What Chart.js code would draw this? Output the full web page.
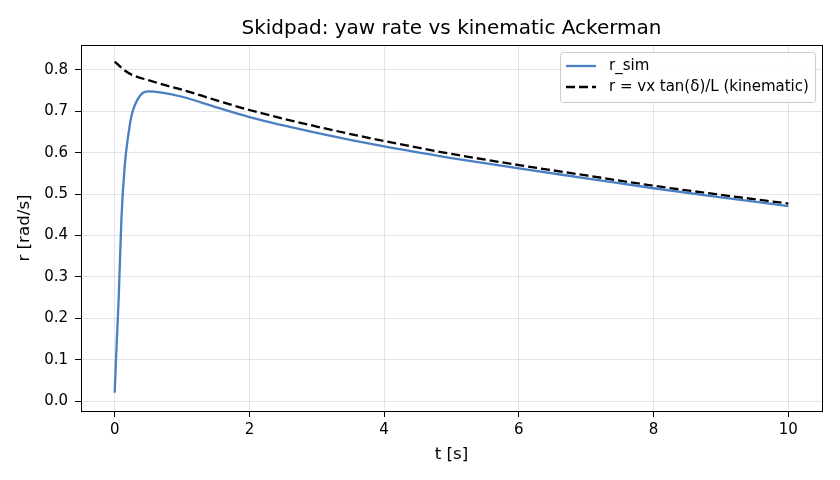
<!DOCTYPE html>
<html>
<head>
<meta charset="utf-8">
<script src="https://cdn.jsdelivr.net/npm/chart.js@4.4.0/dist/chart.umd.min.js"></script>
<style>
  html, body { margin: 0; padding: 0; background: #fff; }
  #wrap { width: 840px; height: 480px; }
</style>
</head>
<body>
<div id="wrap"><canvas id="yawChart" width="840" height="480"></canvas></div>
<script>
// datos
const tSim = [0, 0.03, 0.06, 0.1, 0.15, 0.2, 0.25, 0.3, 0.4, 0.5, 0.7, 1, 1.5, 2, 3, 4, 5, 6, 7, 8, 9, 10];
const rSim = [0.02, 0.14, 0.25, 0.44, 0.57, 0.64, 0.69, 0.715, 0.742, 0.748, 0.745, 0.735, 0.71, 0.686, 0.648, 0.615, 0.587, 0.562, 0.538, 0.514, 0.492, 0.471];

const tKin = [0, 0.1, 0.2, 0.3, 0.5, 0.75, 1, 1.5, 2, 3, 4, 5, 6, 7, 8, 9, 10];
const rKin = [0.82, 0.805, 0.793, 0.785, 0.775, 0.763, 0.752, 0.727, 0.703, 0.663, 0.628, 0.597, 0.57, 0.545, 0.52, 0.498, 0.477];

const xTicks = [0, 2, 4, 6, 8, 10];
const yTicks = [0.0, 0.1, 0.2, 0.3, 0.4, 0.5, 0.6, 0.7, 0.8];

const FONT = "'DejaVu Sans', sans-serif";

function toPoints(xs, ys) {
    return xs.map((x, i) => ({ x: x, y: ys[i] }));
}

// marco y leyenda estilo matplotlib
const framePlugin = {
    id: 'frame',
    afterDraw(chart) {
        const { ctx, chartArea: a } = chart;
        ctx.save();
        ctx.strokeStyle = '#000';
        ctx.lineWidth = 1;
        ctx.strokeRect(Math.round(a.left) + 0.5, Math.round(a.top) + 0.5,
                       Math.round(a.right - a.left), Math.round(a.bottom - a.top));

        // leyenda
        const w = 255, h = 50;
        const x0 = a.right - 7 - w, y0 = a.top + 7;
        ctx.fillStyle = 'rgba(255,255,255,0.85)';
        ctx.strokeStyle = '#cccccc';
        ctx.beginPath();
        ctx.roundRect(x0 + 0.5, y0 + 0.5, w, h, 3);
        ctx.fill();
        ctx.stroke();
        ctx.font = '15px ' + FONT;
        ctx.textBaseline = 'middle';
        chart.data.datasets.forEach((ds, i) => {
            const yy = y0 + 14 + i * 21;
            ctx.strokeStyle = ds.borderColor;
            ctx.lineWidth = ds.borderWidth;
            ctx.setLineDash(ds.borderDash || []);
            ctx.beginPath();
            ctx.moveTo(x0 + 6, yy);
            ctx.lineTo(x0 + 36, yy);
            ctx.stroke();
            ctx.setLineDash([]);
            ctx.fillStyle = '#000';
            ctx.fillText(ds.label, x0 + 49, yy);
        });
        ctx.restore();
    }
};

const ctx = document.getElementById('yawChart').getContext('2d');
new Chart(ctx, {
    type: 'line',
    data: {
        datasets: [{
            label: 'r_sim',
            data: toPoints(tSim, rSim),
            borderColor: '#4a7fc1',
            borderWidth: 2.3,
            pointRadius: 0,
            cubicInterpolationMode: 'monotone',
            fill: false
        }, {
            label: 'r = vx tan(δ)/L (kinematic)',
            data: toPoints(tKin, rKin),
            borderColor: '#000000',
            borderWidth: 2.3,
            borderDash: [9, 4],
            pointRadius: 0,
            cubicInterpolationMode: 'monotone',
            fill: false
        }]
    },
    options: {
        responsive: false,
        animation: false,
        layout: { padding: { left: 0, right: 18, top: 0, bottom: 0 } },
        plugins: {
            legend: { display: false },
            tooltip: { enabled: false },
            title: {
                display: true,
                fullSize: false,
                text: 'Skidpad: yaw rate vs kinematic Ackerman',
                color: '#000',
                font: { family: FONT, size: 20, weight: 'normal' },
                padding: { top: 17, bottom: 4 }
            }
        },
        scales: {
            x: {
                type: 'linear',
                min: -0.5,
                max: 10.5,
                afterFit(scale) { scale.height = 69; },
                afterBuildTicks(scale) { scale.ticks = xTicks.map(v => ({ value: v })); },
                ticks: {
                    color: '#000',
                    font: { family: FONT, size: 15 },
                    padding: 4,
                    maxRotation: 0,
                    callback: v => String(v)
                },
                grid: { color: 'rgba(0,0,0,0.1)', tickColor: '#000', tickLength: 6, drawTicks: true },
                border: { color: '#000' },
                title: {
                    display: true,
                    text: 't [s]',
                    color: '#000',
                    font: { family: FONT, size: 16.7 },
                    padding: { top: 4, bottom: 15 }
                }
            },
            y: {
                min: -0.024,
                max: 0.86,
                afterFit(scale) { scale.width = 81; },
                afterBuildTicks(scale) { scale.ticks = yTicks.map(v => ({ value: v })); },
                ticks: {
                    color: '#000',
                    font: { family: FONT, size: 15 },
                    padding: 7,
                    callback: v => Number(v).toFixed(1)
                },
                grid: { color: 'rgba(0,0,0,0.1)', tickColor: '#000', tickLength: 6, drawTicks: true },
                border: { color: '#000' },
                title: {
                    display: true,
                    text: 'r [rad/s]',
                    color: '#000',
                    font: { family: FONT, size: 16.7 },
                    padding: { top: 15, bottom: 4 }
                }
            }
        }
    },
    plugins: [framePlugin]
});
</script>
</body>
</html>
